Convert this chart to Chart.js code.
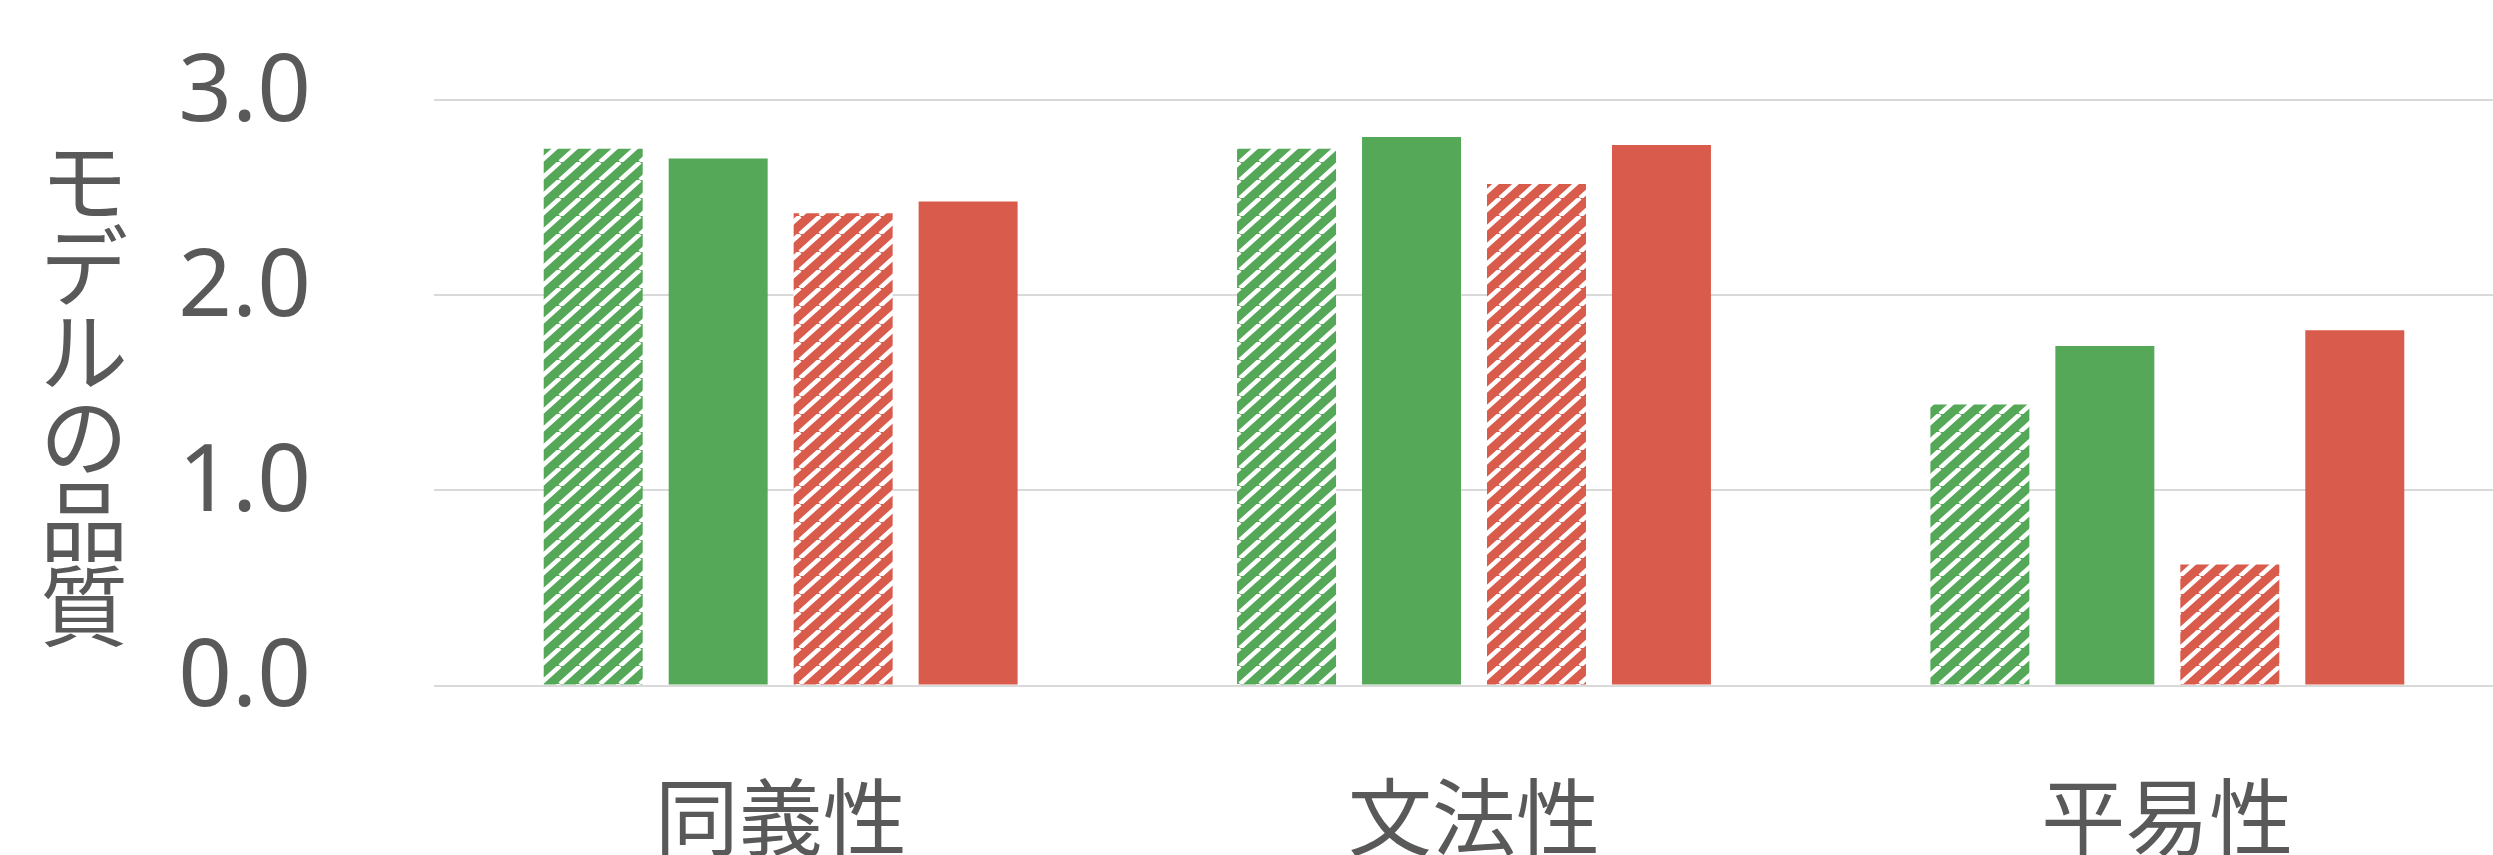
<!DOCTYPE html>
<html lang="ja">
<head>
<meta charset="utf-8">
<title>モデルの品質</title>
<script src="https://cdn.jsdelivr.net/npm/chart.js@4.4.1/dist/chart.umd.min.js"></script>
<style>
  html, body { margin: 0; padding: 0; background: #fff; overflow: hidden; }
  #wrap { position: relative; width: 2514px; height: 855px; }
</style>
</head>
<body>
<div id="wrap"><canvas id="qualityChart"></canvas></div>
<script>
const categories = ['同義性', '文法性', '平易性'];
const greenHatched = [2.75, 2.75, 1.44];
const greenSolid = [2.70, 2.81, 1.74];
const redHatched = [2.42, 2.57, 0.62];
const redSolid = [2.48, 2.77, 1.82];
const yTicks = [0, 1, 2, 3];
const yTitle = 'モデルの品質';

const GREEN = '#55A858';
const RED = '#D95B4B';
const TEXT = '#595959';
const FONT_JP = '"Noto Sans CJK JP", "Noto Sans", sans-serif';
const FONT_NUM = '"Noto Sans", "Open Sans", sans-serif';

// white diagonal stripes on the bar colour
function hatch(color) {
  const w = 20, h = 18;
  const c = document.createElement('canvas');
  c.width = w;
  c.height = h;
  const g = c.getContext('2d');
  g.fillStyle = color;
  g.fillRect(0, 0, w, h);
  g.strokeStyle = '#fff';
  g.lineWidth = 4.5;
  for (const dx of [-w, 0, w]) {
    g.beginPath();
    g.moveTo(dx, h);
    g.lineTo(dx + w, 0);
    g.stroke();
  }
  return g.createPattern(c, 'repeat');
}

// y title drawn upright, one character per line
const verticalTitle = {
  id: 'verticalTitle',
  afterDraw(chart) {
    const ctx = chart.ctx;
    const chars = Array.from(yTitle);
    const mid = (chart.chartArea.top + chart.chartArea.bottom) / 2;
    const step = 85;
    ctx.save();
    ctx.font = '88px ' + FONT_JP;
    ctx.fillStyle = TEXT;
    ctx.textAlign = 'center';
    ctx.textBaseline = 'middle';
    chars.forEach((ch, i) => {
      ctx.fillText(ch, 84, mid + (i - (chars.length - 1) / 2) * step);
    });
    ctx.restore();
  }
};

const ctx = document.getElementById('qualityChart').getContext('2d');
const qualityChart = new Chart(ctx, {
  type: 'bar',
  data: {
    labels: categories,
    datasets: [
      { label: 'green hatched', data: greenHatched, backgroundColor: hatch(GREEN) },
      { label: 'green', data: greenSolid, backgroundColor: GREEN },
      { label: 'red hatched', data: redHatched, backgroundColor: hatch(RED) },
      { label: 'red', data: redSolid, backgroundColor: RED }
    ]
  },
  options: {
    responsive: true,
    maintainAspectRatio: false,
    animation: false,
    categoryPercentage: 0.721,
    barPercentage: 0.792,
    layout: { padding: { top: 100, left: 0, right: 0, bottom: 0 } },
    plugins: {
      legend: { display: false },
      tooltip: { enabled: false }
    },
    scales: {
      x: {
        grid: { display: false },
        border: { display: false },
        ticks: {
          color: TEXT,
          font: { family: FONT_JP, size: 84 },
          padding: 73,
          maxRotation: 0
        },
        afterFit(scale) { scale.height = 169.5; }
      },
      y: {
        min: 0,
        max: 3,
        afterBuildTicks(scale) { scale.ticks = yTicks.map(v => ({ value: v })); },
        grid: { color: '#D9D9D9', lineWidth: 2, drawTicks: false },
        border: { display: false },
        ticks: {
          color: TEXT,
          font: { family: FONT_NUM, size: 94 },
          padding: 123,
          labelOffset: -6,
          callback: v => v.toFixed(1)
        },
        afterFit(scale) {
          scale.width = 434;
          // keep the tick padding from eating into the plot height
          scale.paddingTop = 0;
          scale.paddingBottom = 0;
        }
      }
    }
  },
  plugins: [verticalTitle]
});
</script>
</body>
</html>
